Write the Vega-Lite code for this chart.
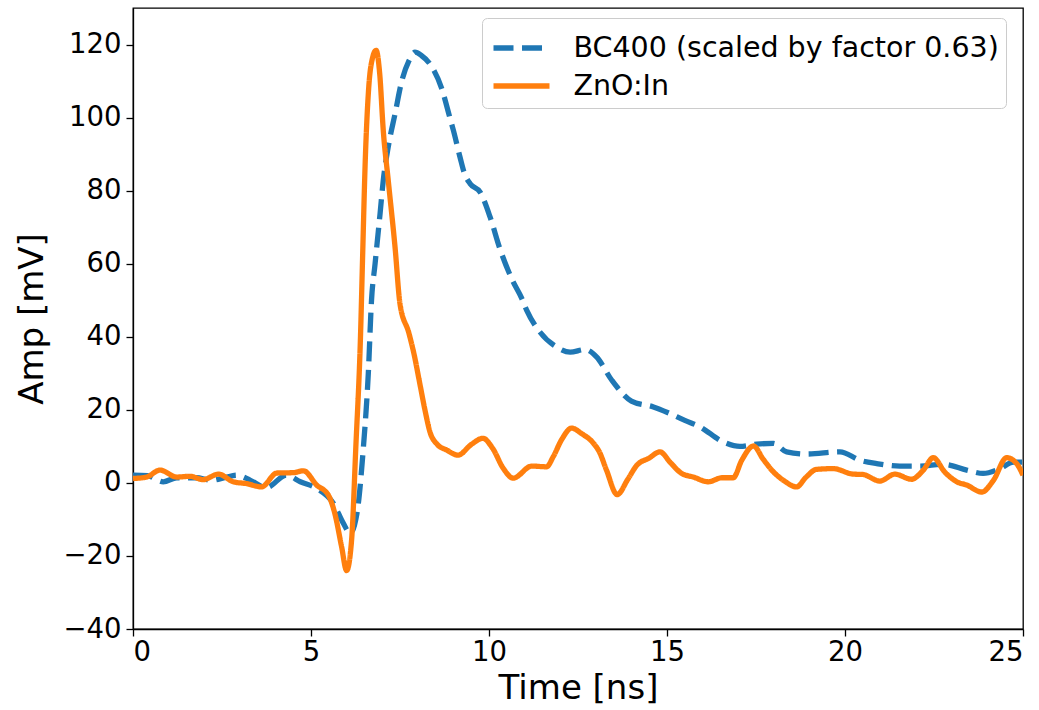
{
  "$schema": "https://vega.github.io/schema/vega-lite/v6.json",
  "width": 890,
  "height": 621,
  "autosize": {"type": "none"},
  "padding": {"left": 133, "top": 8, "right": 16, "bottom": 81},
  "background": "white",
  "config": {
    "font": "DejaVu Sans",
    "view": {"stroke": "black", "strokeWidth": 1.3},
    "axis": {
      "grid": false,
      "domainColor": "black",
      "domainWidth": 1.3,
      "tickColor": "black",
      "tickWidth": 1.3,
      "tickSize": 7,
      "labelFont": "DejaVu Sans",
      "labelFontSize": 27.5,
      "labelColor": "black",
      "labelPadding": 5,
      "titleFont": "DejaVu Sans",
      "titleFontSize": 34,
      "titleFontWeight": "normal",
      "titleColor": "black"
    },
    "legend": {
      "title": null,
      "orient": "none",
      "legendX": 349,
      "legendY": 10,
      "symbolType": "M-1.4,0H1.4",
      "symbolSize": 1600,
      "symbolStrokeWidth": 5.3,
      "symbolOffset": 9.5,
      "labelFont": "DejaVu Sans",
      "labelFontSize": 28.5,
      "labelColor": "black",
      "labelOffset": 29,
      "labelLimit": 800,
      "rowPadding": 0,
      "padding": 7,
      "fillColor": "rgba(255,255,255,0.8)",
      "strokeColor": "#cccccc",
      "cornerRadius": 5
    }
  },
  "data": {
    "values": [
      {"t": 0, "v": 2.1, "s": "BC400 (scaled by factor 0.63)"},
      {"t": 0.4, "v": 2.0, "s": "BC400 (scaled by factor 0.63)"},
      {"t": 0.85, "v": 0.3, "s": "BC400 (scaled by factor 0.63)"},
      {"t": 1.23, "v": 1.4, "s": "BC400 (scaled by factor 0.63)"},
      {"t": 1.78, "v": 1.4, "s": "BC400 (scaled by factor 0.63)"},
      {"t": 2.2, "v": 0.7, "s": "BC400 (scaled by factor 0.63)"},
      {"t": 2.6, "v": 1.5, "s": "BC400 (scaled by factor 0.63)"},
      {"t": 2.91, "v": 2.1, "s": "BC400 (scaled by factor 0.63)"},
      {"t": 3.3, "v": 0.7, "s": "BC400 (scaled by factor 0.63)"},
      {"t": 3.74, "v": -1.3, "s": "BC400 (scaled by factor 0.63)"},
      {"t": 4.31, "v": 2.1, "s": "BC400 (scaled by factor 0.63)"},
      {"t": 4.7, "v": 0.3, "s": "BC400 (scaled by factor 0.63)"},
      {"t": 5.16, "v": -1.5, "s": "BC400 (scaled by factor 0.63)"},
      {"t": 5.63, "v": -5.6, "s": "BC400 (scaled by factor 0.63)"},
      {"t": 5.91, "v": -11.1, "s": "BC400 (scaled by factor 0.63)"},
      {"t": 6.1, "v": -13.8, "s": "BC400 (scaled by factor 0.63)"},
      {"t": 6.29, "v": -8.4, "s": "BC400 (scaled by factor 0.63)"},
      {"t": 6.47, "v": 9.5, "s": "BC400 (scaled by factor 0.63)"},
      {"t": 6.61, "v": 30, "s": "BC400 (scaled by factor 0.63)"},
      {"t": 6.7, "v": 50, "s": "BC400 (scaled by factor 0.63)"},
      {"t": 6.8, "v": 60, "s": "BC400 (scaled by factor 0.63)"},
      {"t": 6.94, "v": 73.7, "s": "BC400 (scaled by factor 0.63)"},
      {"t": 7.03, "v": 82.8, "s": "BC400 (scaled by factor 0.63)"},
      {"t": 7.17, "v": 92, "s": "BC400 (scaled by factor 0.63)"},
      {"t": 7.36, "v": 101, "s": "BC400 (scaled by factor 0.63)"},
      {"t": 7.55, "v": 110, "s": "BC400 (scaled by factor 0.63)"},
      {"t": 7.75, "v": 115.5, "s": "BC400 (scaled by factor 0.63)"},
      {"t": 7.92, "v": 117.9, "s": "BC400 (scaled by factor 0.63)"},
      {"t": 8.1, "v": 117, "s": "BC400 (scaled by factor 0.63)"},
      {"t": 8.34, "v": 114.7, "s": "BC400 (scaled by factor 0.63)"},
      {"t": 8.67, "v": 108, "s": "BC400 (scaled by factor 0.63)"},
      {"t": 8.9, "v": 100, "s": "BC400 (scaled by factor 0.63)"},
      {"t": 9.0, "v": 96.5, "s": "BC400 (scaled by factor 0.63)"},
      {"t": 9.19, "v": 89, "s": "BC400 (scaled by factor 0.63)"},
      {"t": 9.3, "v": 85, "s": "BC400 (scaled by factor 0.63)"},
      {"t": 9.47, "v": 81.9, "s": "BC400 (scaled by factor 0.63)"},
      {"t": 9.75, "v": 79.6, "s": "BC400 (scaled by factor 0.63)"},
      {"t": 10.03, "v": 72.8, "s": "BC400 (scaled by factor 0.63)"},
      {"t": 10.31, "v": 64, "s": "BC400 (scaled by factor 0.63)"},
      {"t": 10.66, "v": 55.4, "s": "BC400 (scaled by factor 0.63)"},
      {"t": 10.92, "v": 50.5, "s": "BC400 (scaled by factor 0.63)"},
      {"t": 11.06, "v": 47.2, "s": "BC400 (scaled by factor 0.63)"},
      {"t": 11.43, "v": 41.3, "s": "BC400 (scaled by factor 0.63)"},
      {"t": 11.9, "v": 37.2, "s": "BC400 (scaled by factor 0.63)"},
      {"t": 12.28, "v": 35.8, "s": "BC400 (scaled by factor 0.63)"},
      {"t": 12.7, "v": 36.5, "s": "BC400 (scaled by factor 0.63)"},
      {"t": 13.02, "v": 34.5, "s": "BC400 (scaled by factor 0.63)"},
      {"t": 13.45, "v": 28.1, "s": "BC400 (scaled by factor 0.63)"},
      {"t": 14.0, "v": 22.4, "s": "BC400 (scaled by factor 0.63)"},
      {"t": 14.62, "v": 20.8, "s": "BC400 (scaled by factor 0.63)"},
      {"t": 15.03, "v": 19.2, "s": "BC400 (scaled by factor 0.63)"},
      {"t": 15.5, "v": 17.1, "s": "BC400 (scaled by factor 0.63)"},
      {"t": 15.9, "v": 15.5, "s": "BC400 (scaled by factor 0.63)"},
      {"t": 16.58, "v": 11.2, "s": "BC400 (scaled by factor 0.63)"},
      {"t": 17.05, "v": 10, "s": "BC400 (scaled by factor 0.63)"},
      {"t": 17.52, "v": 10.6, "s": "BC400 (scaled by factor 0.63)"},
      {"t": 17.99, "v": 10.8, "s": "BC400 (scaled by factor 0.63)"},
      {"t": 18.36, "v": 8.5, "s": "BC400 (scaled by factor 0.63)"},
      {"t": 18.93, "v": 7.9, "s": "BC400 (scaled by factor 0.63)"},
      {"t": 19.86, "v": 8.5, "s": "BC400 (scaled by factor 0.63)"},
      {"t": 20.42, "v": 6.2, "s": "BC400 (scaled by factor 0.63)"},
      {"t": 20.89, "v": 5.3, "s": "BC400 (scaled by factor 0.63)"},
      {"t": 21.54, "v": 4.6, "s": "BC400 (scaled by factor 0.63)"},
      {"t": 22.1, "v": 4.6, "s": "BC400 (scaled by factor 0.63)"},
      {"t": 22.76, "v": 5.1, "s": "BC400 (scaled by factor 0.63)"},
      {"t": 23.42, "v": 3.5, "s": "BC400 (scaled by factor 0.63)"},
      {"t": 23.88, "v": 2.6, "s": "BC400 (scaled by factor 0.63)"},
      {"t": 24.35, "v": 3.9, "s": "BC400 (scaled by factor 0.63)"},
      {"t": 24.73, "v": 5.7, "s": "BC400 (scaled by factor 0.63)"},
      {"t": 25, "v": 5.7, "s": "BC400 (scaled by factor 0.63)"},
      {"t": 0, "v": 1.2, "s": "ZnO:In"},
      {"t": 0.38, "v": 1.6, "s": "ZnO:In"},
      {"t": 0.76, "v": 3.5, "s": "ZnO:In"},
      {"t": 1.23, "v": 1.6, "s": "ZnO:In"},
      {"t": 1.6, "v": 1.8, "s": "ZnO:In"},
      {"t": 1.97, "v": 0.9, "s": "ZnO:In"},
      {"t": 2.4, "v": 2.4, "s": "ZnO:In"},
      {"t": 2.82, "v": 0.3, "s": "ZnO:In"},
      {"t": 3.19, "v": -0.2, "s": "ZnO:In"},
      {"t": 3.61, "v": -1.1, "s": "ZnO:In"},
      {"t": 4.04, "v": 2.7, "s": "ZnO:In"},
      {"t": 4.5, "v": 2.8, "s": "ZnO:In"},
      {"t": 4.79, "v": 3.3, "s": "ZnO:In"},
      {"t": 5.16, "v": -0.6, "s": "ZnO:In"},
      {"t": 5.49, "v": -3.4, "s": "ZnO:In"},
      {"t": 5.67, "v": -8.4, "s": "ZnO:In"},
      {"t": 5.86, "v": -17.5, "s": "ZnO:In"},
      {"t": 6.0, "v": -24, "s": "ZnO:In"},
      {"t": 6.14, "v": -15.7, "s": "ZnO:In"},
      {"t": 6.26, "v": 10, "s": "ZnO:In"},
      {"t": 6.39, "v": 40, "s": "ZnO:In"},
      {"t": 6.45, "v": 62, "s": "ZnO:In"},
      {"t": 6.52, "v": 87, "s": "ZnO:In"},
      {"t": 6.62, "v": 108, "s": "ZnO:In"},
      {"t": 6.72, "v": 116, "s": "ZnO:In"},
      {"t": 6.83, "v": 118.4, "s": "ZnO:In"},
      {"t": 6.93, "v": 112, "s": "ZnO:In"},
      {"t": 7.03, "v": 96.5, "s": "ZnO:In"},
      {"t": 7.17, "v": 82.8, "s": "ZnO:In"},
      {"t": 7.36, "v": 64.6, "s": "ZnO:In"},
      {"t": 7.5, "v": 49, "s": "ZnO:In"},
      {"t": 7.75, "v": 41, "s": "ZnO:In"},
      {"t": 7.9, "v": 35, "s": "ZnO:In"},
      {"t": 8.06, "v": 27, "s": "ZnO:In"},
      {"t": 8.2, "v": 20, "s": "ZnO:In"},
      {"t": 8.34, "v": 14, "s": "ZnO:In"},
      {"t": 8.55, "v": 10.5, "s": "ZnO:In"},
      {"t": 8.81, "v": 9, "s": "ZnO:In"},
      {"t": 9.13, "v": 7.6, "s": "ZnO:In"},
      {"t": 9.5, "v": 10.5, "s": "ZnO:In"},
      {"t": 9.83, "v": 12.2, "s": "ZnO:In"},
      {"t": 10.1, "v": 9.5, "s": "ZnO:In"},
      {"t": 10.4, "v": 4, "s": "ZnO:In"},
      {"t": 10.68, "v": 1.3, "s": "ZnO:In"},
      {"t": 11.2, "v": 4.6, "s": "ZnO:In"},
      {"t": 11.62, "v": 4.4, "s": "ZnO:In"},
      {"t": 11.8, "v": 7.1, "s": "ZnO:In"},
      {"t": 12.05, "v": 12, "s": "ZnO:In"},
      {"t": 12.32, "v": 15, "s": "ZnO:In"},
      {"t": 12.6, "v": 13.5, "s": "ZnO:In"},
      {"t": 12.93, "v": 10.9, "s": "ZnO:In"},
      {"t": 13.1, "v": 8.5, "s": "ZnO:In"},
      {"t": 13.3, "v": 3.5, "s": "ZnO:In"},
      {"t": 13.6, "v": -3.2, "s": "ZnO:In"},
      {"t": 13.9, "v": 1, "s": "ZnO:In"},
      {"t": 14.15, "v": 4.8, "s": "ZnO:In"},
      {"t": 14.5, "v": 6.8, "s": "ZnO:In"},
      {"t": 14.8, "v": 8.5, "s": "ZnO:In"},
      {"t": 15.1, "v": 5.5, "s": "ZnO:In"},
      {"t": 15.41, "v": 2.6, "s": "ZnO:In"},
      {"t": 15.74, "v": 1.6, "s": "ZnO:In"},
      {"t": 16.16, "v": 0.3, "s": "ZnO:In"},
      {"t": 16.54, "v": 1.4, "s": "ZnO:In"},
      {"t": 16.86, "v": 1.4, "s": "ZnO:In"},
      {"t": 17.1, "v": 6.2, "s": "ZnO:In"},
      {"t": 17.43, "v": 10.1, "s": "ZnO:In"},
      {"t": 17.7, "v": 6.5, "s": "ZnO:In"},
      {"t": 17.99, "v": 3, "s": "ZnO:In"},
      {"t": 18.3, "v": 0.5, "s": "ZnO:In"},
      {"t": 18.64, "v": -1.1, "s": "ZnO:In"},
      {"t": 18.9, "v": 1.5, "s": "ZnO:In"},
      {"t": 19.2, "v": 3.7, "s": "ZnO:In"},
      {"t": 19.67, "v": 3.9, "s": "ZnO:In"},
      {"t": 20.23, "v": 2.4, "s": "ZnO:In"},
      {"t": 20.5, "v": 2.3, "s": "ZnO:In"},
      {"t": 20.98, "v": 0.5, "s": "ZnO:In"},
      {"t": 21.4, "v": 2.4, "s": "ZnO:In"},
      {"t": 21.87, "v": 1, "s": "ZnO:In"},
      {"t": 22.2, "v": 3.5, "s": "ZnO:In"},
      {"t": 22.48, "v": 6.9, "s": "ZnO:In"},
      {"t": 22.8, "v": 3, "s": "ZnO:In"},
      {"t": 23.14, "v": 0.3, "s": "ZnO:In"},
      {"t": 23.42, "v": -0.6, "s": "ZnO:In"},
      {"t": 23.84, "v": -2.5, "s": "ZnO:In"},
      {"t": 24.17, "v": 0.7, "s": "ZnO:In"},
      {"t": 24.54, "v": 6.9, "s": "ZnO:In"},
      {"t": 24.82, "v": 5.3, "s": "ZnO:In"},
      {"t": 25, "v": 2.1, "s": "ZnO:In"}
    ]
  },
  "mark": {"type": "line", "interpolate": "monotone", "strokeWidth": 5.3, "clip": true},
  "encoding": {
    "x": {
      "field": "t", "type": "quantitative",
      "scale": {"domain": [0, 25], "nice": false, "zero": false},
      "axis": {"title": "Time [ns]", "values": [0, 5, 10, 15, 20, 25], "labelPadding": 2, "titlePadding": 6}
    },
    "y": {
      "field": "v", "type": "quantitative",
      "scale": {"domain": [-40, 130], "nice": false, "zero": false},
      "axis": {"title": "Amp [mV]", "values": [-40, -20, 0, 20, 40, 60, 80, 100, 120], "titlePadding": 13}
    },
    "color": {
      "field": "s", "type": "nominal",
      "scale": {"domain": ["BC400 (scaled by factor 0.63)", "ZnO:In"], "range": ["#1f77b4", "#ff7f0e"]}
    },
    "strokeDash": {
      "field": "s", "type": "nominal",
      "scale": {"domain": ["BC400 (scaled by factor 0.63)", "ZnO:In"], "range": [[20, 8.5], [1, 0]]}
    }
  }
}
